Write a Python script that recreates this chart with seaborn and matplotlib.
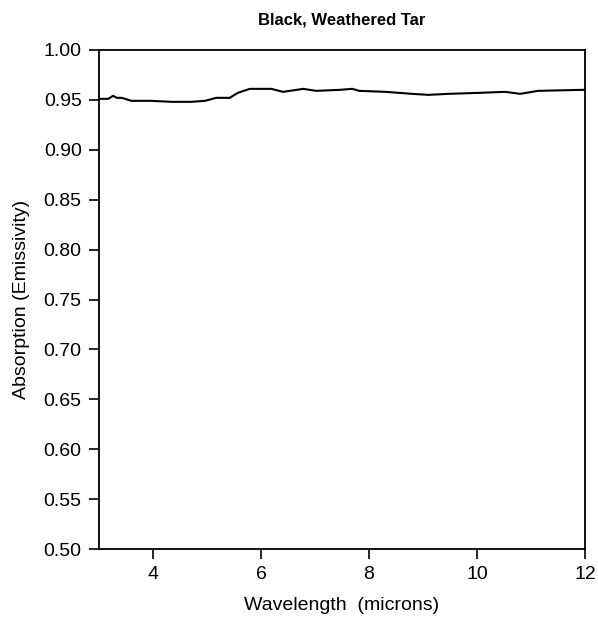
import matplotlib
matplotlib.use("Agg")
import matplotlib.pyplot as plt
import seaborn as sns
import pandas as pd

wavelength = [3.0, 3.17, 3.26, 3.33, 3.42, 3.6, 3.97, 4.34, 4.71, 4.96, 5.17, 5.42, 5.57, 5.79,
              6.19, 6.41, 6.78, 7.02, 7.45, 7.69, 7.82, 8.31, 8.8, 9.1, 9.47, 10.03, 10.52,
              10.8, 11.13, 11.93, 12.0]
absorption = [0.951, 0.951, 0.954, 0.952, 0.952, 0.949, 0.949, 0.948, 0.948, 0.949, 0.952, 0.952,
              0.957, 0.961, 0.961, 0.958, 0.961, 0.959, 0.960, 0.961, 0.959, 0.958, 0.956, 0.955,
              0.956, 0.957, 0.958, 0.956, 0.959, 0.960, 0.960]
xticks = [4, 6, 8, 10, 12]
yticks = [0.50, 0.55, 0.60, 0.65, 0.70, 0.75, 0.80, 0.85, 0.90, 0.95, 1.00]

sns.set_style("ticks")
plt.rcParams['font.family'] = ['Liberation Sans', 'DejaVu Sans']
plt.rcParams['text.color'] = 'black'
plt.rcParams['axes.labelcolor'] = 'black'

df = pd.DataFrame({"Wavelength": wavelength, "Absorption": absorption})

fig = plt.figure(figsize=(5.98, 6.24), dpi=100)
ax = fig.add_axes([0.1656, 0.120, 0.8127, 0.800])
sns.lineplot(data=df, x="Wavelength", y="Absorption", color="black", linewidth=1.5, ax=ax)

ax.set_xlim(3, 12)
ax.set_ylim(0.5, 1.0)
ax.set_xticks(xticks)
ax.set_yticks(yticks)
ax.set_yticklabels([f"{v:.2f}" for v in yticks])
ax.tick_params(axis="both", labelsize=14, length=7.5, width=1.2, color="black",
               labelcolor="black", pad=5)
for s in ax.spines.values():
    s.set_visible(True)
    s.set_color("black")
    s.set_linewidth(1.3)
ax.set_xlabel("Wavelength  (microns)", fontsize=14, labelpad=10, color="black")
ax.set_ylabel("Absorption (Emissivity)", fontsize=14, labelpad=10, color="black")
ax.set_title("Black, Weathered Tar", fontsize=12, fontweight="bold", pad=18, color="black")

fig.savefig("out.png", dpi=100)
